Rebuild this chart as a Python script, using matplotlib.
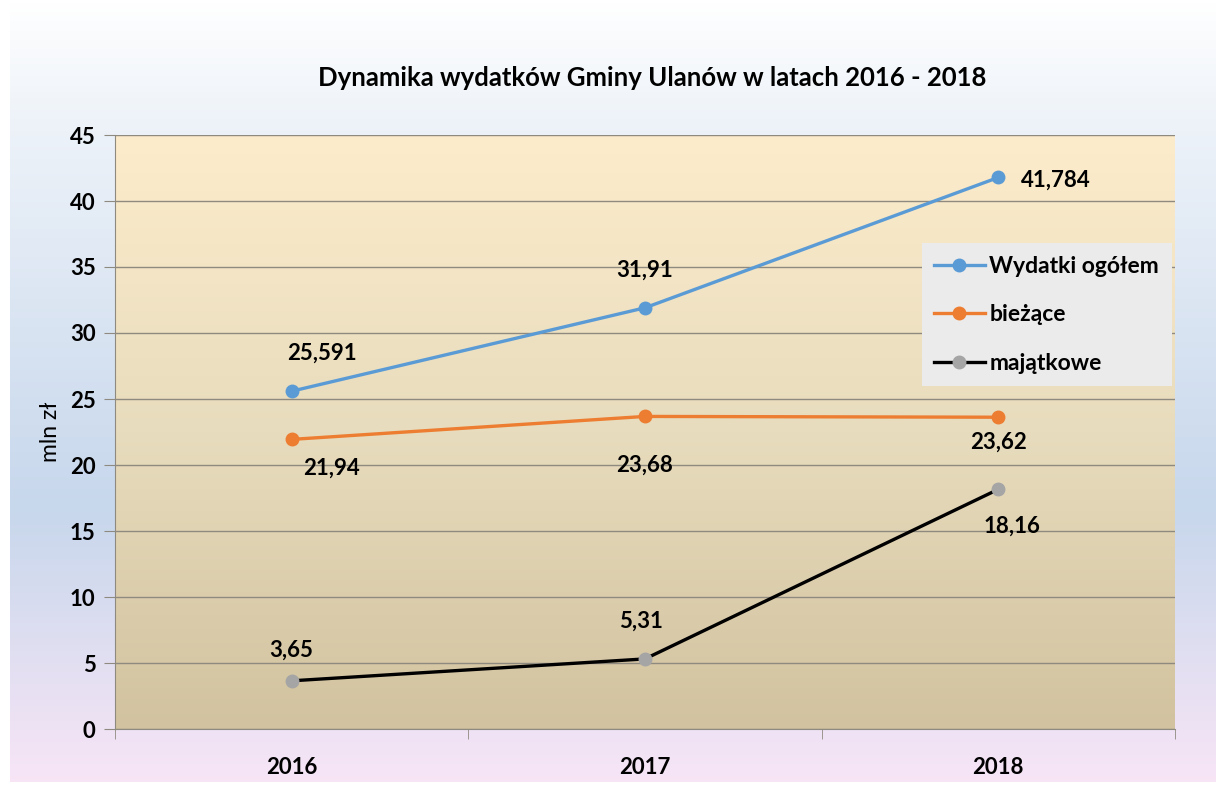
import numpy as np
import matplotlib.pyplot as plt
from matplotlib.colors import LinearSegmentedColormap

years = ['2016', '2017', '2018']
ogolem = [25.591, 31.91, 41.784]
biezace = [21.94, 23.68, 23.62]
majatkowe = [3.65, 5.31, 18.16]

lab_ogolem = ['25,591', '31,91', '41,784']
lab_biezace = ['21,94', '23,68', '23,62']
lab_majatkowe = ['3,65', '5,31', '18,16']

plt.rcParams['font.family'] = ['Lato', 'DejaVu Sans']

fig = plt.figure(figsize=(12.16, 7.87), dpi=100)

# tło całego wykresu
bg = fig.add_axes([10 / 1216, 5 / 787, 1 - 10 / 1216, 1 - 5 / 787], zorder=-2)
bg_cmap = LinearSegmentedColormap.from_list(
    'bg', [(0, '#ffffff'), (0.15, '#eef3f9'), (0.65, '#c7d7ec'), (1, '#f7e5f6')])
bg.imshow(np.linspace(0, 1, 256).reshape(-1, 1), cmap=bg_cmap, aspect='auto',
          extent=(0, 1, 0, 1), origin='upper')
bg.axis('off')

ax = fig.add_axes([115 / 1216, 1 - 729 / 787, 1060 / 1216, 594 / 787])
ax.patch.set_visible(False)
area_cmap = LinearSegmentedColormap.from_list(
    'area', [(0, '#fdeccb'), (0.5, '#e7dcbd'), (1, '#d2c29f')])
ax.imshow(np.linspace(0, 1, 256).reshape(-1, 1), cmap=area_cmap, aspect='auto',
          extent=(-0.5, 2.5, 0, 45), origin='upper', zorder=0)

x = np.arange(len(years))
ax.plot(x, ogolem, color='#5b9bd5', lw=2.4, marker='o', ms=9, label='Wydatki ogółem', zorder=3)
ax.plot(x, biezace, color='#ed7d31', lw=2.4, marker='o', ms=9, label='bieżące', zorder=3)
ax.plot(x, majatkowe, color='black', lw=2.4, marker='o', ms=9, mfc='#a5a5a5', mec='#a5a5a5',
        label='majątkowe', zorder=3)

ax.set_xlim(-0.5, 2.5)
ax.set_ylim(0, 45)
ax.set_yticks(range(0, 46, 5))
ax.grid(axis='y', color='#8f8a80', lw=1)
for gl in ax.get_ygridlines():
    gl.set_zorder(1)

ax.set_xticks(x)
ax.set_xticklabels(years)
ax.set_xticks([-0.5, 0.5, 1.5, 2.5], minor=True)
ax.tick_params(axis='x', which='major', length=0, pad=20, labelsize=16)
ax.tick_params(axis='x', which='minor', length=7, color='#8f8a80')
ax.tick_params(axis='y', length=8, color='#8f8a80', labelsize=16, pad=6)
for t in ax.get_xticklabels() + ax.get_yticklabels():
    t.set_fontweight('bold')

for s in ['top', 'right']:
    ax.spines[s].set_visible(False)
ax.spines['left'].set_color('#8f8a80')
ax.spines['bottom'].set_color('#8f8a80')

ax.set_ylabel('mln zł', fontsize=16.5, labelpad=6)

fig.text(652 / 1216, 1 - 78 / 787, 'Dynamika wydatków Gminy Ulanów w latach 2016 - 2018',
         ha='center', va='center', fontsize=18.5, fontweight='bold')

lk = dict(fontsize=16, fontweight='bold', ha='center', va='center', zorder=4)
off_og = [(30, 38), (0, 38), (57, -3)]
off_bi = [(40, -29), (0, -49), (0, -25)]
off_ma = [(0, 31), (-4, 38), (14, -37)]
for i in range(3):
    ax.annotate(lab_ogolem[i], (x[i], ogolem[i]), xytext=off_og[i], textcoords='offset pixels', **lk)
    ax.annotate(lab_biezace[i], (x[i], biezace[i]), xytext=off_bi[i], textcoords='offset pixels', **lk)
    ax.annotate(lab_majatkowe[i], (x[i], majatkowe[i]), xytext=off_ma[i], textcoords='offset pixels', **lk)

leg = ax.legend(loc='upper left', bbox_to_anchor=(0.761, 0.818), borderaxespad=0,
                frameon=True, fancybox=False, facecolor='#ebebeb', edgecolor='none', framealpha=1,
                prop={'size': 16.5, 'weight': 'bold'}, labelspacing=1.2, handlelength=2.2,
                handletextpad=0.2, borderpad=0.55)
leg.set_zorder(5)

fig.savefig('out.png', dpi=100)
